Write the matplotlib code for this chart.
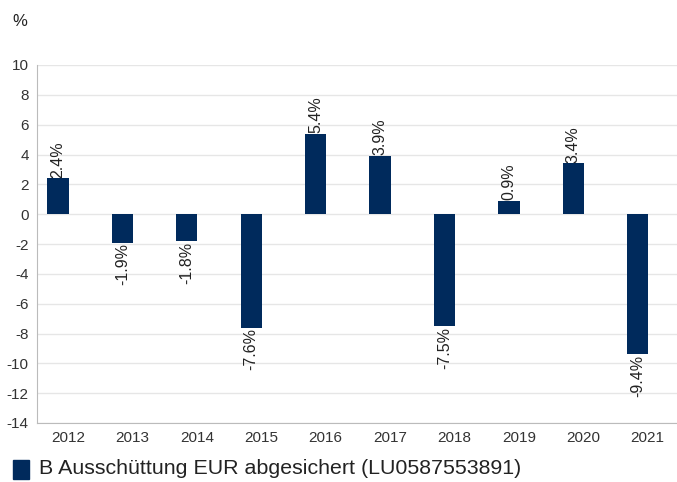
import matplotlib
matplotlib.use("Agg")
import matplotlib.pyplot as plt
import matplotlib.transforms as mtransforms
import numpy as np
from matplotlib.patches import Rectangle

plt.rcParams['font.family'] = ['Liberation Sans', 'DejaVu Sans']
plt.rcParams['axes.unicode_minus'] = False

years = ['2012', '2013', '2014', '2015', '2016', '2017', '2018', '2019', '2020', '2021']
values = [2.4, -1.9, -1.8, -7.6, 5.4, 3.9, -7.5, 0.9, 3.4, -9.4]
series_name = 'B Ausschüttung EUR abgesichert (LU0587553891)'
bar_color = '#002a5c'

fig = plt.figure(figsize=(6.77, 4.82), dpi=100)
ax = fig.add_axes([37 / 677, 1 - 423 / 482, 1 - 37 / 677, (423 - 65) / 482])

x = np.arange(len(years))
ax.bar(x, values, width=0.33, color=bar_color, zorder=3)

for xi, v in zip(x, values):
    label = f'{v:.1f}%'
    if v >= 0:
        ax.text(xi, v + 0.05, label, rotation=90, ha='center', va='bottom', fontsize=11.5, color='#222222')
    else:
        ax.text(xi, v - 0.05, label, rotation=90, ha='center', va='top', fontsize=11.5, color='#222222')

ax.set_ylim(-14, 10)
ax.set_yticks(np.arange(-14, 11, 2))
ax.set_xlim(-0.326, 9.61)
ax.set_xticks(x)
ax.set_xticklabels(years)
ax.grid(axis='y', color='#e6e6e6', linewidth=1, zorder=0)
for s in ['top', 'right']:
    ax.spines[s].set_visible(False)
ax.spines['left'].set_color('#bbbbbb')
ax.spines['bottom'].set_color('#bbbbbb')
ax.tick_params(axis='both', length=0, labelsize=11, colors='#333333')
ax.tick_params(axis='x', pad=6)
ax.tick_params(axis='y', pad=6)

# year labels sit a little right of the bars in the original
shift = mtransforms.ScaledTranslation(10 / 100, 0, fig.dpi_scale_trans)
for lbl in ax.get_xticklabels():
    lbl.set_transform(lbl.get_transform() + shift)

fig.text(12 / 677, 1 - 22 / 482, '%', fontsize=12, color='#222222', va='center')

fig.patches.append(Rectangle((13 / 677, 1 - 479 / 482), 16 / 677, 19 / 482,
                             transform=fig.transFigure, color=bar_color, figure=fig))
fig.text(39 / 677, 1 - 469 / 482, series_name, fontsize=15.4, color='#222222', va='center')

fig.savefig('out.png', dpi=100)
